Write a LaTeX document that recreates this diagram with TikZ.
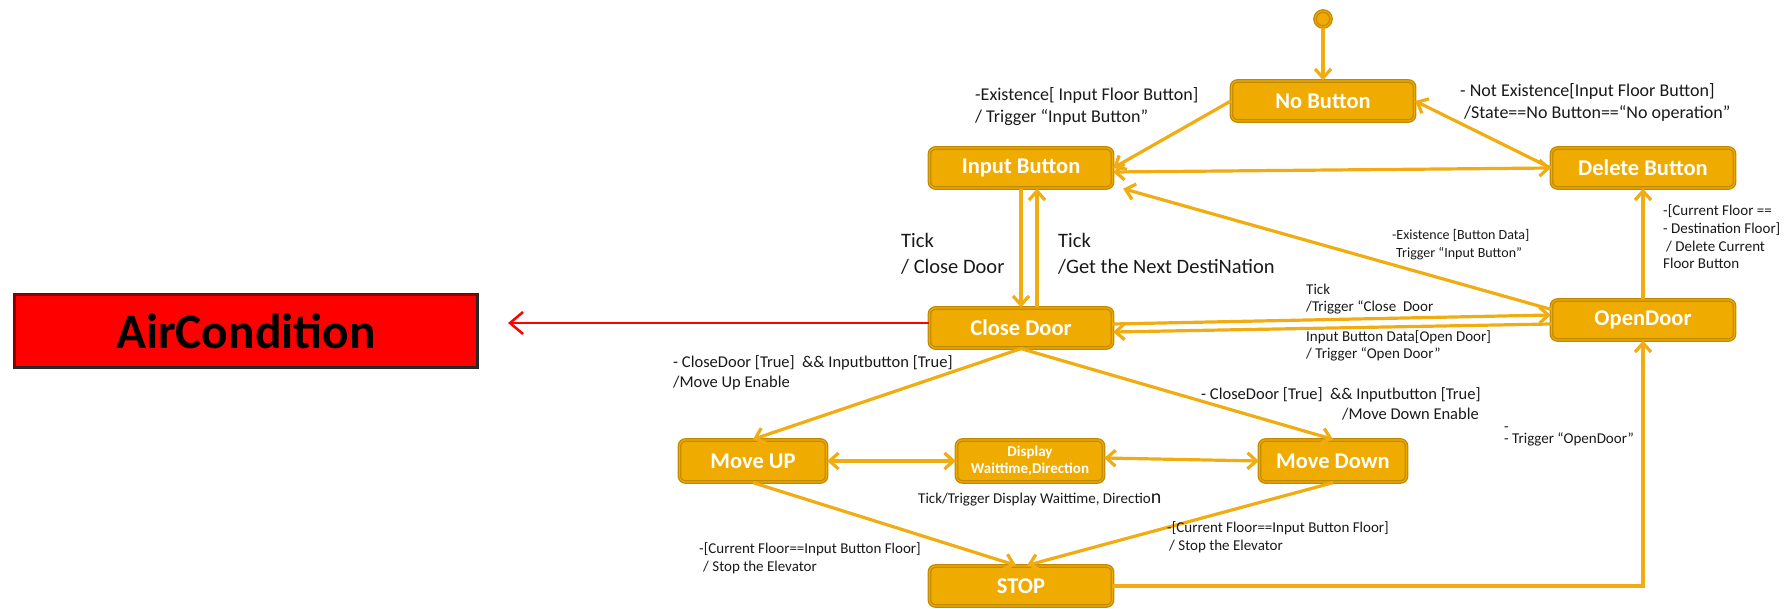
\documentclass[tikz,border=0pt]{standalone}
\usepackage{fontspec}
\setmainfont{Carlito}
\usetikzlibrary{arrows.meta,positioning}

\definecolor{stfill}{HTML}{F0AB00}
\definecolor{stedge}{HTML}{C08A00}
\definecolor{stline}{HTML}{F0AC10}

\newcommand\stfont{\fontsize{22.5}{25}\selectfont\bfseries}

\begin{document}
\begin{tikzpicture}
  [x=1pt,y=-1pt,on grid,>={Straight Barb[length=9pt,width=16pt]},
   stbox/.style={rectangle,rounded corners=6pt,draw=stedge,line width=1.3pt,
     double=stfill,double distance=1.1pt,fill=stfill,text=white,font=\stfont,
     minimum width=183pt,minimum height=40pt,inner sep=0pt},
   lowbox/.style={stbox,minimum width=147pt,minimum height=42pt},
   initdot/.style={circle,draw=stedge,line width=1.3pt,double=stfill,
     double distance=1.1pt,fill=stfill,minimum size=16pt,inner sep=0pt},
   airbox/.style={rectangle,draw=black!85,line width=1.2pt,double=red!55!black,
     double distance=1pt,fill=red,text=black,
     font=\fontsize{49.5}{55}\selectfont\bfseries,
     minimum width=463pt,minimum height=73pt,inner sep=0pt},
   trans/.style={draw=stline,line width=3.2pt},
   redline/.style={draw=red,line width=2.5pt,shorten >=30pt,
     >={Straight Barb[length=13pt,width=22pt]}},
   lbl/.style={anchor=west,align=left,inner sep=0pt,text=black!90}]

  \useasboundingbox (0,0) rectangle (1789,609);

  % states
  \node [stbox]   (nob)                                   at (1323,101) {No Button};
  \node [initdot] (init) [above=82pt of nob]              {};
  \node [stbox]   (inb)  [below left=67pt and 302pt of nob]  {Input Button};
  \node [stbox]   (delb) [below right=67pt and 320pt of nob] {Delete Button};
  \node [stbox]   (cld)  [below=160pt of inb]             {Close Door};
  \node [stbox]   (opd)  [below=152pt of delb]            {OpenDoor};
  \node [lowbox]  (mup)  [below left=133pt and 268pt of cld] {Move UP};
  \node [lowbox,font=\fontsize{15}{17}\selectfont\bfseries,align=center]
                  (disp) [right=277pt of mup]             {Display\\Waittime,Direction};
  \node [lowbox]  (mdn)  [right=303pt of disp]            {Move Down};
  \node [stbox]   (stop) [below=258pt of cld]             {STOP};
  \node [airbox]  (air)  [left=775pt of cld,yshift=-3pt]  {AirCondition};

  % transitions
  \draw [trans,->] (init) -- (nob);
  \draw [trans,->] (nob.west) -- (inb.east);
  \draw [trans,->] (delb.west) -- (nob.east);
  \draw [trans,<->] ([yshift=-4pt]inb.east) -- (delb.west);
  \draw [trans,->] ([yshift=-10pt]opd.north west) -- ([xshift=10pt]inb.south east);
  \draw [trans,->] (inb) -- (cld);
  \draw [trans,->] ([xshift=16pt]cld.north) -- ([xshift=16pt]inb.south);
  \draw [trans,->] ([yshift=4pt]cld.east) -- ([yshift=5pt]opd.west);
  \draw [trans,->] ([yshift=-4pt]opd.west) -- ([yshift=-4pt]cld.east);
  \draw [trans,->] (cld.south) -- (mup.north);
  \draw [trans,->] (cld.south) -- (mdn.north);
  \draw [trans,<->] (mup) -- (disp);
  \draw [trans,<->] ([yshift=3pt]disp.east) -- (mdn.west);
  \draw [trans,->] (mup.south) -- ([xshift=-5pt]stop.north);
  \draw [trans,->] (mdn.south) -- ([xshift=6pt]stop.north);
  \draw [trans,->] (stop.east) -| (opd.south);
  \draw [trans,->] (opd) -- (delb);
  \draw [redline,->] ([yshift=5pt]cld.west) -- ([yshift=8pt]air.east);

  % guards and actions
  \node [lbl,font=\fontsize{18}{22}\selectfont] (tnob) at (975,107)
    {-Existence[ Input Floor Button]\\/ Trigger “Input Button”};
  \node [lbl,font=\fontsize{18}{22}\selectfont] (tdelb) at (1460,102)
    {- Not Existence[Input Floor Button]\\\hspace*{4pt}/State==No Button==“No operation”};
  \node [lbl,font=\fontsize{20.5}{26}\selectfont] (tclose) at (901,254)
    {Tick\\/ Close Door};
  \node [lbl,font=\fontsize{20.5}{26}\selectfont] (tnext) at (1058,254)
    {Tick\\/Get the Next DestiNation};
  \node [lbl,font=\fontsize{14}{18}\selectfont] (tdata) at (1392,245)
    {-Existence [Button Data]\\\hspace*{4pt}Trigger “Input Button”};
  \node [lbl,font=\fontsize{15}{17.7}\selectfont] (tdel) at (1663,237)
    {-[Current Floor ==\\- Destination Floor]\\\hspace*{3pt}/ Delete Current\\Floor Button};
  \node [lbl,font=\fontsize{15}{17}\selectfont] (ttick) at (1306,299)
    {Tick\\/Trigger “Close~ Door};
  \node [lbl,font=\fontsize{15}{17}\selectfont] (topen) at (1306,346)
    {Input Button Data[Open Door]\\/ Trigger “Open Door”};
  \node [lbl,font=\fontsize{16.5}{20}\selectfont] (tup) at (673,373)
    {- CloseDoor [True]~~\&\& Inputbutton [True]\\/Move Up Enable};
  \node [lbl,font=\fontsize{16.5}{20}\selectfont] (tdown) at (1201,404)
    {- CloseDoor [True]~~\&\& Inputbutton [True]\\\hspace*{141pt}/Move Down Enable};
  \node [lbl,font=\fontsize{15}{17}\selectfont] (tdisp) at (918,500)
    {Tick/Trigger Display Waittime, Directio{\fontsize{20}{20}\selectfont n}};
  \node [lbl,font=\fontsize{15}{18}\selectfont] (tstopl) at (699,558)
    {-[Current Floor==Input Button Floor]\\\hspace*{4pt}/ Stop the Elevator};
  \node [lbl,font=\fontsize{15}{18}\selectfont] (tstopr) at (1167,537)
    {-[Current Floor==Input Button Floor]\\\hspace*{2pt}/ Stop the Elevator};
  \node [lbl,font=\fontsize{15}{8}\selectfont] (tstop) at (1504,436)
    {-\\- Trigger “OpenDoor”};
\end{tikzpicture}
\end{document}
